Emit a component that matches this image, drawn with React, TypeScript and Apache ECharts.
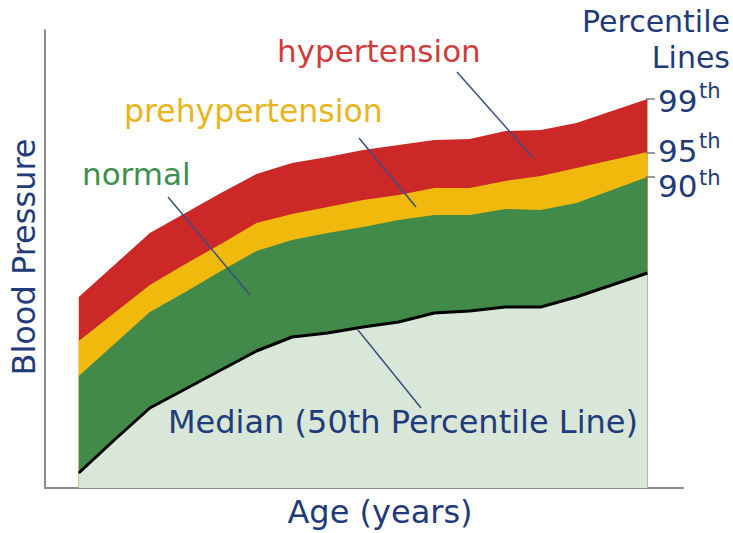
import React, { useEffect, useRef } from "react";
import * as echarts from "echarts";

// Age in years
const ages = [1, 2, 3, 4, 5, 6, 7, 8, 9, 10, 11, 12, 13, 14, 15, 16, 17];
// Blood pressure percentile lines (arbitrary units)
const p50 = [15, 48, 80, 99, 118, 137, 151, 155, 161, 166, 175, 177, 181, 181, 191, 203, 215];
const p90 = [112, 144, 176, 196, 217, 237, 248, 255, 261, 268, 273, 273, 279, 278, 285, 298, 311];
const p95 = [147, 175, 203, 224, 244, 265, 274, 281, 288, 293, 300, 300, 307, 312, 320, 328, 336];
const p99 = [191, 223, 255, 275, 295, 314, 325, 331, 338, 343, 348, 349, 357, 358, 365, 377, 389];

const FONT = "DejaVu Sans";
const BLUE = "#1f3b7a";
const LEADER = "#3a4f80";

function pairs(vals: number[]) {
  return ages.map((a, i) => [a, vals[i]]);
}

function band(name: string, vals: number[], color: string) {
  return {
    name,
    type: "line",
    data: pairs(vals),
    symbol: "none",
    lineStyle: { width: 0, color },
    areaStyle: { color, opacity: 1 },
    silent: true,
  };
}

export default function App() {
  const ref = useRef<HTMLDivElement>(null);
  useEffect(() => {
    if (!ref.current) return;
    const chart = echarts.init(ref.current, undefined, { renderer: "svg" });
    const txt = (text: string, x: number, y: number, fill: string, fontSize = 31, align = "left", extra: any = {}) => ({
      type: "text",
      x,
      y,
      ...extra,
      style: {
        text,
        fill,
        fontSize,
        fontFamily: FONT,
        align,
        verticalAlign: "middle",
      },
      z: 100,
    });
    const line = (x1: number, y1: number, x2: number, y2: number, stroke = LEADER, lineWidth = 1.5) => ({
      type: "line",
      shape: { x1, y1, x2, y2 },
      style: { stroke, lineWidth },
      z: 100,
    });
    chart.setOption({
      animation: false,
      backgroundColor: "#ffffff",
      grid: { left: 45, right: 50, top: 30, bottom: 45 },
      xAxis: {
        type: "value",
        min: 0.05,
        max: 18,
        axisLine: { show: true, lineStyle: { color: "#8c8c8c", width: 2 } },
        axisTick: { show: false },
        axisLabel: { show: false },
        splitLine: { show: false },
      },
      yAxis: {
        type: "value",
        min: 0,
        max: 458,
        axisLine: { show: true, lineStyle: { color: "#8c8c8c", width: 2 } },
        axisTick: { show: false },
        axisLabel: { show: false },
        splitLine: { show: false },
      },
      series: [
        band("99th", p99, "#cc2828"),
        band("95th", p95, "#f0b90b"),
        band("90th", p90, "#428a4a"),
        {
          name: "50th",
          type: "line",
          data: pairs(p50),
          symbol: "none",
          lineStyle: { width: 3, color: "#000000" },
          areaStyle: { color: "#d9e7d9", opacity: 1 },
          silent: true,
        },
      ],
      graphic: [
        txt("Blood Pressure", 24, 257, BLUE, 32, "center", { rotation: Math.PI / 2 }),
        txt("Age (years)", 380, 512, BLUE, 32, "center"),
        txt("hypertension", 277, 51, "#d13c3c", 31),
        txt("prehypertension", 124, 111, "#e9b51a", 31.5),
        txt("normal", 82, 174, "#3d8f4e", 31),
        txt("Median (50th Percentile Line)", 168, 422, BLUE, 32),
        txt("Percentile", 730, 21, BLUE, 30, "right"),
        txt("Lines", 730, 57, BLUE, 30, "right"),
        txt("99", 658, 101, BLUE),
        txt("th", 699, 91, BLUE, 21),
        txt("95", 658, 151, BLUE),
        txt("th", 699, 141, BLUE, 21),
        txt("90", 658, 186, BLUE),
        txt("th", 699, 178, BLUE, 21),
        line(646, 99, 655, 99, "#777777"),
        line(646, 153, 655, 153, "#777777"),
        line(646, 177, 655, 177, "#777777"),
        line(457, 72, 533, 158),
        line(359, 138, 416, 207),
        line(168, 197, 250, 295),
        line(358, 330, 421, 408),
      ],
    });
    return () => chart.dispose();
  }, []);
  return (
    <div
      ref={ref}
      style={{ position: "fixed", left: 0, top: 0, width: 733, height: 533 }}
    />
  );
}
